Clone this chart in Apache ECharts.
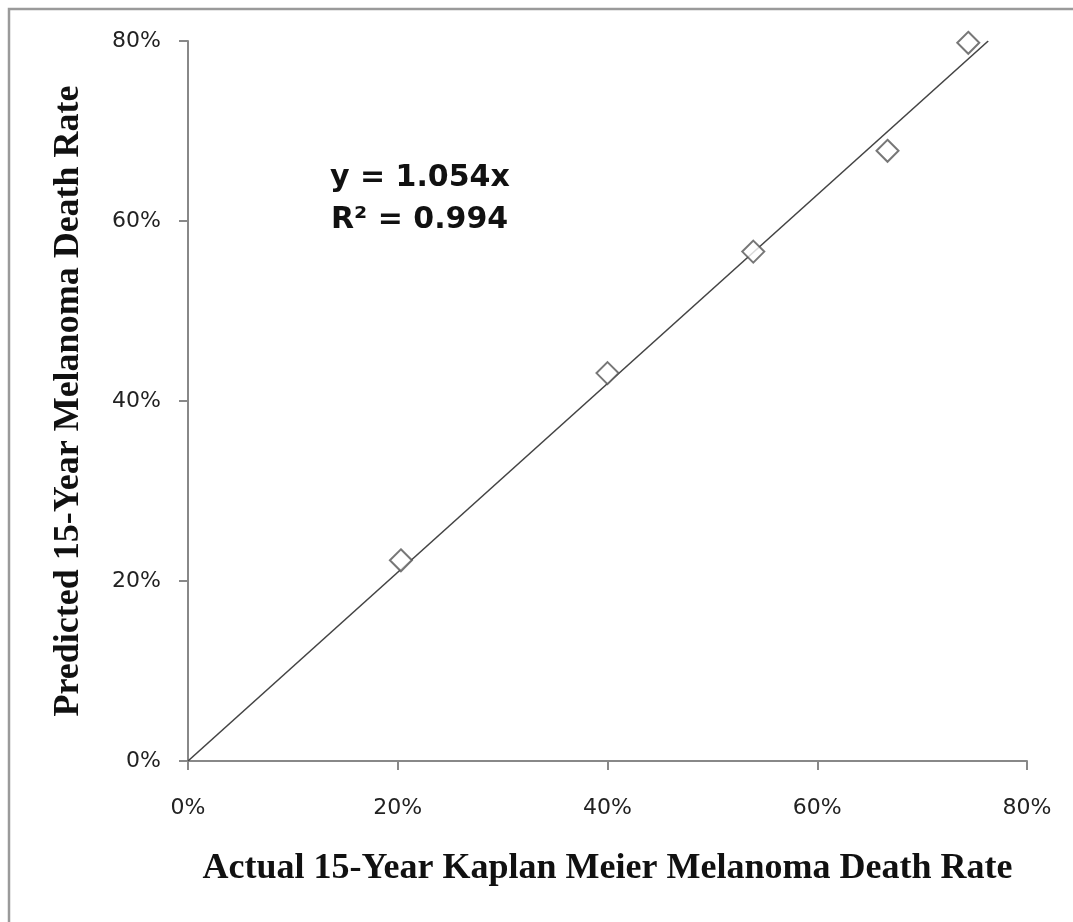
<!DOCTYPE html>
<html>
<head>
<meta charset="utf-8">
<script src="https://cdn.jsdelivr.net/npm/echarts@6/dist/echarts.min.js"></script>
<style>
html, body { margin: 0; padding: 0; background: #fff; }
#main { width: 1073px; height: 922px; }
</style>
</head>
<body>
<div id="main"></div>
<script>
// actual vs predicted 15-year death rate (%)
var actual = [20.3, 40.0, 53.9, 66.7, 74.4];
var predicted = [22.3, 43.1, 56.6, 67.8, 79.8];
var trendX = [0, 76.3];
var trendY = [0, 80.0];
var axisTicks = [0, 20, 40, 60, 80];

var chart = echarts.init(document.getElementById('main'));

var points = actual.map(function(x, i) { return [x, predicted[i]]; });
var trend = trendX.map(function(x, i) { return [x, trendY[i]]; });

var option = {
    backgroundColor: '#fff',
    animation: false,
    grid: {
        left: 188,
        right: 46,
        top: 41,
        bottom: 161
    },
    xAxis: {
        type: 'value',
        min: axisTicks[0],
        max: axisTicks[axisTicks.length - 1],
        interval: 20,
        name: 'Actual 15-Year Kaplan Meier Melanoma Death Rate',
        nameLocation: 'middle',
        nameGap: 90,
        nameTextStyle: {
            fontFamily: 'Liberation Serif',
            fontWeight: 'bold',
            fontSize: 36,
            color: '#111'
        },
        axisLine: { lineStyle: { color: '#888', width: 2 } },
        axisTick: { length: 9, lineStyle: { color: '#888', width: 2 } },
        axisLabel: {
            margin: 36,
            fontFamily: 'DejaVu Sans',
            fontSize: 22,
            color: '#222',
            formatter: '{value}%'
        },
        splitLine: { show: false }
    },
    yAxis: {
        type: 'value',
        min: axisTicks[0],
        max: axisTicks[axisTicks.length - 1],
        interval: 20,
        name: 'Predicted 15-Year Melanoma Death Rate',
        nameLocation: 'middle',
        nameGap: 101,
        nameTextStyle: {
            fontFamily: 'Liberation Serif',
            fontWeight: 'bold',
            fontSize: 36,
            color: '#111'
        },
        axisLine: { show: true, lineStyle: { color: '#888', width: 2 } },
        axisTick: { show: true, length: 9, lineStyle: { color: '#888', width: 2 } },
        axisLabel: {
            margin: 27,
            fontFamily: 'DejaVu Sans',
            fontSize: 22,
            color: '#222',
            formatter: '{value}%'
        },
        splitLine: { show: false }
    },
    graphic: [
        {
            type: 'polyline',
            shape: { points: [[9, 922], [9, 9], [1073, 9]] },
            style: { stroke: '#9a9a9a', lineWidth: 2.5, fill: null }
        },
        {
            type: 'text',
            left: 330,
            top: 163,
            style: {
                text: 'y = 1.054x',
                font: 'bold 30px "DejaVu Sans"',
                fill: '#111'
            }
        },
        {
            type: 'text',
            left: 331,
            top: 205,
            style: {
                text: 'R\u00b2 = 0.994',
                font: 'bold 30px "DejaVu Sans"',
                fill: '#111'
            }
        }
    ],
    series: [
        {
            type: 'line',
            data: trend,
            symbol: 'none',
            lineStyle: { color: '#444', width: 1.6 },
            z: 2
        },
        {
            type: 'scatter',
            data: points,
            symbol: 'diamond',
            symbolSize: 22,
            itemStyle: {
                color: '#fff',
                borderColor: '#555',
                borderWidth: 2
            },
            z: 3
        }
    ]
};
chart.setOption(option);
</script>
</body>
</html>
